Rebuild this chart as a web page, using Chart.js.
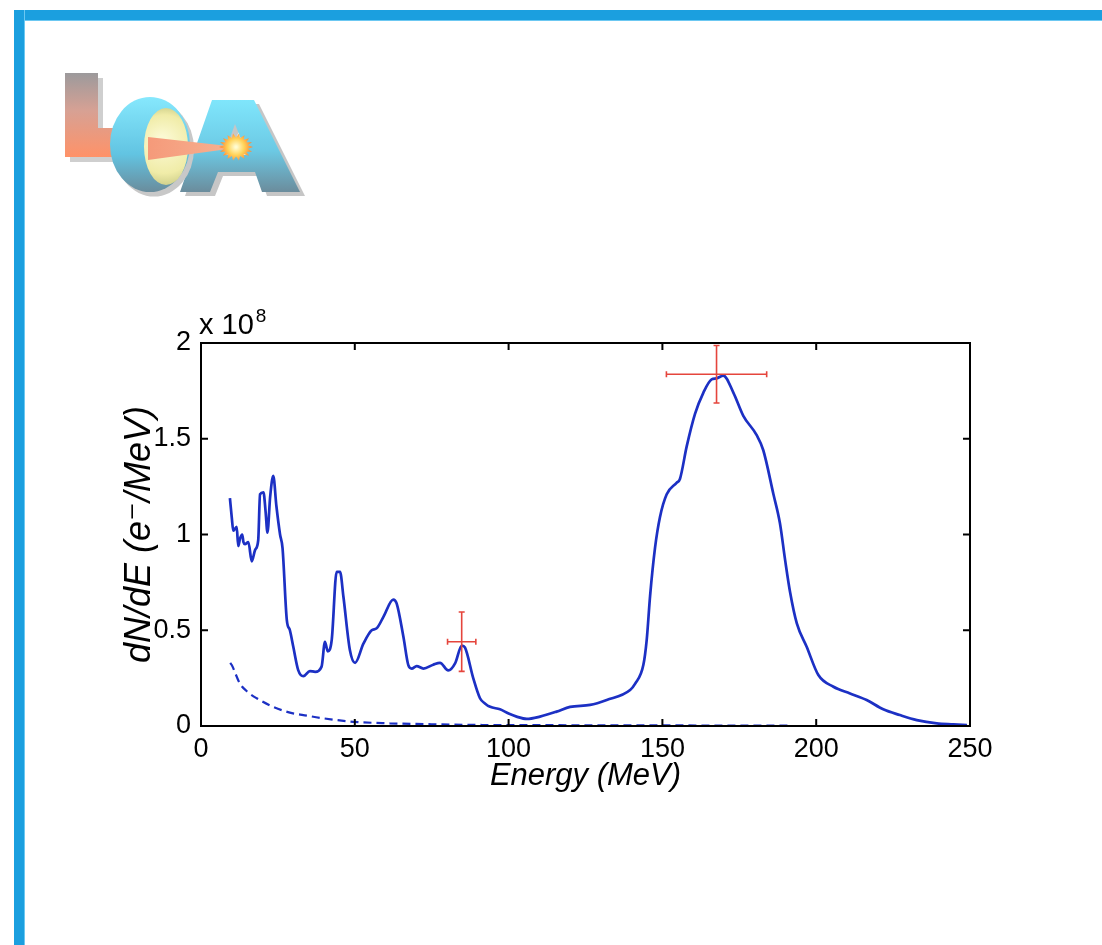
<!DOCTYPE html>
<html>
<head>
<meta charset="utf-8">
<script src="https://cdn.jsdelivr.net/npm/chart.js@4.4.1/dist/chart.umd.min.js"></script>
<style>
  html, body { margin: 0; padding: 0; background: #ffffff; width: 1102px; height: 945px; overflow: hidden; }
  #frameTop { position: absolute; left: 14px; top: 10px; width: 1088px; height: 10px; background: #1b9fdf; border-bottom: 1px solid #6cc8f2; }
  #frameLeft { position: absolute; left: 14px; top: 10px; width: 10px; height: 935px; background: #1b9fdf; border-right: 1px solid #6cc8f2; }
  #logo { position: absolute; left: 0; top: 0; }
  #chart { position: absolute; left: 0; top: 0; }
</style>
</head>
<body>
<canvas id="chart" width="1102" height="945"></canvas>
<canvas id="logo" width="340" height="220"></canvas>
<div id="frameTop"></div>
<div id="frameLeft"></div>
<script>
// ---------------- DATA (dN/dE in units of 10^8 e-/MeV) ----------------
const energyMeasured = [9.4, 10.0, 10.5, 11.6, 12.1, 12.7, 13.4, 13.8, 14.3, 15.4, 16.5, 17.6, 18.6, 19.2, 20.3, 21.0, 21.6, 22.5, 23.5, 24.5, 25.7, 26.5, 27.9, 28.9, 30.0, 31.6, 33.3, 35.4, 37.1, 39.2, 40.3, 41.2, 42.5, 44.1, 45.2, 46.3, 48.4, 50.1, 52.8, 55.5, 57.1, 59.3, 62.5, 63.6, 65.8, 67.4, 68.5, 70.1, 72.3, 75.5, 77.7, 80.4, 82.6, 84.8, 85.8, 88.5, 90.7, 92.3, 94.0, 97.2, 100.0, 102.6, 105.9, 110.2, 115.6, 120.0, 126.5, 131.9, 139.5, 141.1, 143.8, 144.9, 146.0, 147.6, 149.2, 151.4, 154.6, 155.7, 157.9, 160.6, 163.3, 166.0, 167.6, 169.8, 173.1, 176.3, 180.6, 182.8, 186.1, 188.2, 189.9, 191.5, 193.7, 196.9, 200.7, 205.6, 211.0, 216.4, 221.8, 227.2, 232.7, 239.2, 244.6, 249.0];
const dNdEMeasured = [1.19, 1.09, 1.02, 1.04, 0.94, 0.98, 1.0, 0.96, 0.95, 0.96, 0.86, 0.92, 0.97, 1.21, 1.22, 1.12, 1.01, 1.2, 1.306, 1.15, 1.0, 0.93, 0.553, 0.50, 0.414, 0.292, 0.26, 0.287, 0.283, 0.31, 0.44, 0.39, 0.45, 0.805, 0.805, 0.675, 0.397, 0.33, 0.43, 0.50, 0.51, 0.57, 0.66, 0.64, 0.466, 0.318, 0.30, 0.313, 0.30, 0.32, 0.33, 0.29, 0.327, 0.42, 0.41, 0.25, 0.145, 0.118, 0.10, 0.087, 0.065, 0.049, 0.037, 0.049, 0.075, 0.10, 0.11, 0.136, 0.188, 0.22, 0.318, 0.45, 0.68, 0.93, 1.09, 1.21, 1.27, 1.29, 1.46, 1.63, 1.74, 1.81, 1.815, 1.83, 1.74, 1.62, 1.52, 1.44, 1.21, 1.06, 0.866, 0.70, 0.536, 0.414, 0.266, 0.205, 0.17, 0.136, 0.087, 0.057, 0.031, 0.014, 0.009, 0.005];

const energyNoise = [9.5, 10.0, 12.7, 15.0, 18.1, 23.5, 28.9, 34.4, 39.8, 49.5, 61.4, 75.0, 94.0, 120.0, 150.0, 191.5];
const dNdENoise = [0.33, 0.318, 0.22, 0.18, 0.145, 0.10, 0.07, 0.054, 0.04, 0.022, 0.014, 0.009, 0.005, 0.004, 0.003, 0.002];

const errEnergy = [84.75, 167.6];
const errValue = [0.44, 1.837];
const errEnergyHalf = [4.6, 16.3];
const errValueHalf = [0.155, 0.15];

const xTickValues = [0, 50, 100, 150, 200, 250];
const yTickValues = [0, 0.5, 1, 1.5, 2];
const yTickLabels = ['0', '0.5', '1', '1.5', '2'];

// ---------------- CHART ----------------
const FONT = "'Liberation Sans', Arial, 'DejaVu Sans', sans-serif";

const toPoints = (xs, ys) => xs.map((x, i) => ({ x: x, y: ys[i] }));

const framePlugin = {
  id: 'matlabFrame',
  afterDatasetsDraw(chart) {
    const { ctx, chartArea: a, scales } = chart;
    const xs = scales.x, ys = scales.y;
    ctx.save();
    // error bars
    ctx.strokeStyle = '#e5453c';
    ctx.lineWidth = 1.6;
    for (let i = 0; i < errEnergy.length; i++) {
      const cx = xs.getPixelForValue(errEnergy[i]);
      const cy = ys.getPixelForValue(errValue[i]);
      const x0 = xs.getPixelForValue(errEnergy[i] - errEnergyHalf[i]);
      const x1 = xs.getPixelForValue(errEnergy[i] + errEnergyHalf[i]);
      const y0 = ys.getPixelForValue(errValue[i] - errValueHalf[i]);
      const y1 = ys.getPixelForValue(errValue[i] + errValueHalf[i]);
      ctx.beginPath();
      ctx.moveTo(x0, cy); ctx.lineTo(x1, cy);
      ctx.moveTo(x0, cy - 3); ctx.lineTo(x0, cy + 3);
      ctx.moveTo(x1, cy - 3); ctx.lineTo(x1, cy + 3);
      ctx.moveTo(cx, y0); ctx.lineTo(cx, y1);
      ctx.moveTo(cx - 3, y0); ctx.lineTo(cx + 3, y0);
      ctx.moveTo(cx - 3, y1); ctx.lineTo(cx + 3, y1);
      ctx.stroke();
    }
    // box
    ctx.strokeStyle = '#000';
    ctx.lineWidth = 2;
    ctx.strokeRect(a.left, a.top, a.right - a.left, a.bottom - a.top);
    // inward ticks
    const tl = 7;
    ctx.beginPath();
    xs.ticks.forEach(t => {
      const px = xs.getPixelForValue(t.value);
      ctx.moveTo(px, a.bottom); ctx.lineTo(px, a.bottom - tl);
      ctx.moveTo(px, a.top); ctx.lineTo(px, a.top + tl);
    });
    ys.ticks.forEach(t => {
      const py = ys.getPixelForValue(t.value);
      ctx.moveTo(a.left, py); ctx.lineTo(a.left + tl, py);
      ctx.moveTo(a.right, py); ctx.lineTo(a.right - tl, py);
    });
    ctx.stroke();
    // exponent label
    ctx.fillStyle = '#000';
    ctx.textBaseline = 'alphabetic';
    ctx.textAlign = 'left';
    ctx.font = '29px ' + FONT;
    ctx.fillText('x 10', a.left - 2, a.top - 9);
    const w = ctx.measureText('x 10').width;
    ctx.font = '19px ' + FONT;
    ctx.fillText('8', a.left - 2 + w + 2, a.top - 21);
    ctx.restore();
  }
};

new Chart(document.getElementById('chart'), {
  type: 'line',
  data: {
    datasets: [
      {
        label: 'Measured spectrum',
        data: toPoints(energyMeasured, dNdEMeasured),
        borderColor: '#1c30c4',
        borderWidth: 2.7,
        pointRadius: 0,
        fill: false,
        cubicInterpolationMode: 'monotone'
      },
      {
        label: 'Background',
        data: toPoints(energyNoise, dNdENoise),
        borderColor: '#1c30c4',
        borderWidth: 2.2,
        borderDash: [8, 5],
        pointRadius: 0,
        fill: false,
        cubicInterpolationMode: 'monotone'
      }
    ]
  },
  options: {
    responsive: false,
    animation: false,
    events: [],
    layout: { padding: { left: 111, top: 343, right: 132, bottom: 129 } },
    plugins: { legend: { display: false }, tooltip: { enabled: false } },
    scales: {
      x: {
        type: 'linear',
        min: 0, max: 250,
        afterFit: s => { s.height = 90; },
        afterBuildTicks: s => { s.ticks = xTickValues.map(v => ({ value: v })); },
        grid: { display: false, drawTicks: false },
        border: { display: false },
        ticks: { color: '#000', font: { family: FONT, size: 27 }, padding: 7, maxRotation: 0 },
        title: {
          display: true, text: 'Energy (MeV)', color: '#000',
          font: { family: FONT, size: 31, style: 'italic' },
          padding: { top: 0, bottom: 21 }
        }
      },
      y: {
        type: 'linear',
        min: 0, max: 2,
        afterFit: s => { s.width = 90; },
        afterBuildTicks: s => { s.ticks = yTickValues.map(v => ({ value: v })); },
        grid: { display: false, drawTicks: false },
        border: { display: false },
        ticks: {
          color: '#000', font: { family: FONT, size: 27 }, padding: 10,
          callback: (v) => { const i = yTickValues.indexOf(v); return i >= 0 ? yTickLabels[i] : ''; }
        },
        title: {
          display: true, text: 'dN/dE (e\u207B/MeV)', color: '#000',
          font: { family: FONT, size: 36, style: 'italic' },
          padding: { top: 7, bottom: 0 }
        }
      }
    }
  },
  plugins: [framePlugin]
});

// ---------------- LOGO (decorative) ----------------
(function drawLogo() {
  const c = document.getElementById('logo').getContext('2d');
  // L shadow
  c.fillStyle = '#cfcfcf';
  c.fillRect(70, 78, 33, 84);
  c.fillRect(70, 133, 60, 29);
  // L
  const gL = c.createLinearGradient(0, 73, 0, 157);
  gL.addColorStop(0, '#9c9a9c');
  gL.addColorStop(0.45, '#d7a194');
  gL.addColorStop(1, '#ff9268');
  c.fillStyle = gL;
  c.fillRect(65, 73, 33, 84);
  c.fillRect(65, 128, 60, 29);
  // A
  function aPath(dx, dy) {
    c.beginPath();
    c.moveTo(212 + dx, 100 + dy); c.lineTo(254 + dx, 100 + dy); c.lineTo(300 + dx, 192 + dy);
    c.lineTo(262 + dx, 192 + dy); c.lineTo(255 + dx, 172 + dy); c.lineTo(218 + dx, 172 + dy);
    c.lineTo(210 + dx, 192 + dy); c.lineTo(180 + dx, 192 + dy); c.closePath();
    c.moveTo(235 + dx, 124 + dy); c.lineTo(224 + dx, 155 + dy); c.lineTo(247 + dx, 155 + dy); c.closePath();
  }
  c.fillStyle = '#c6c6c6';
  aPath(5, 4); c.fill('evenodd');
  const gA = c.createLinearGradient(0, 100, 0, 192);
  gA.addColorStop(0, '#7fe6fc');
  gA.addColorStop(0.55, '#6cc9e4');
  gA.addColorStop(1, '#6b8c9c');
  c.fillStyle = gA;
  aPath(0, 0); c.fill('evenodd');
  // C (disk)
  c.fillStyle = '#c8c8c8';
  c.beginPath(); c.ellipse(154, 149, 40, 47.5, 0, 0, Math.PI * 2); c.fill();
  const gC = c.createLinearGradient(0, 97, 0, 192);
  gC.addColorStop(0, '#86e8fd');
  gC.addColorStop(0.6, '#62c4e2');
  gC.addColorStop(1, '#6a8c9c');
  c.fillStyle = gC;
  c.beginPath(); c.ellipse(150, 144.5, 40, 47.5, 0, 0, Math.PI * 2); c.fill();
  // yellow face
  const gY = c.createRadialGradient(162, 140, 4, 165, 146, 40);
  gY.addColorStop(0, '#fbf9d2');
  gY.addColorStop(0.7, '#f0eca8');
  gY.addColorStop(1, '#cfcf8a');
  c.fillStyle = gY;
  c.beginPath(); c.ellipse(166, 146.5, 22, 38.5, 0, 0, Math.PI * 2); c.fill();
  // beam
  const gB = c.createLinearGradient(148, 0, 228, 0);
  gB.addColorStop(0, '#f59a7a');
  gB.addColorStop(1, '#f7b090');
  c.fillStyle = gB;
  c.beginPath(); c.moveTo(148, 137); c.lineTo(228, 146); c.lineTo(228, 149); c.lineTo(148, 160); c.closePath(); c.fill();
  // star burst
  c.beginPath();
  const n = 18;
  for (let i = 0; i < n * 2; i++) {
    const r = i % 2 === 0 ? 17 : 12;
    const ang = i * Math.PI / n;
    const px = 236 + r * Math.cos(ang), py = 147 + r * 0.8 * Math.sin(ang);
    if (i === 0) c.moveTo(px, py); else c.lineTo(px, py);
  }
  c.closePath();
  const gS = c.createRadialGradient(236, 147, 1, 236, 147, 17);
  gS.addColorStop(0, '#fffbd0');
  gS.addColorStop(0.45, '#ffd45a');
  gS.addColorStop(1, '#ff7a2e');
  c.fillStyle = gS;
  c.fill();
})();
</script>
</body>
</html>
